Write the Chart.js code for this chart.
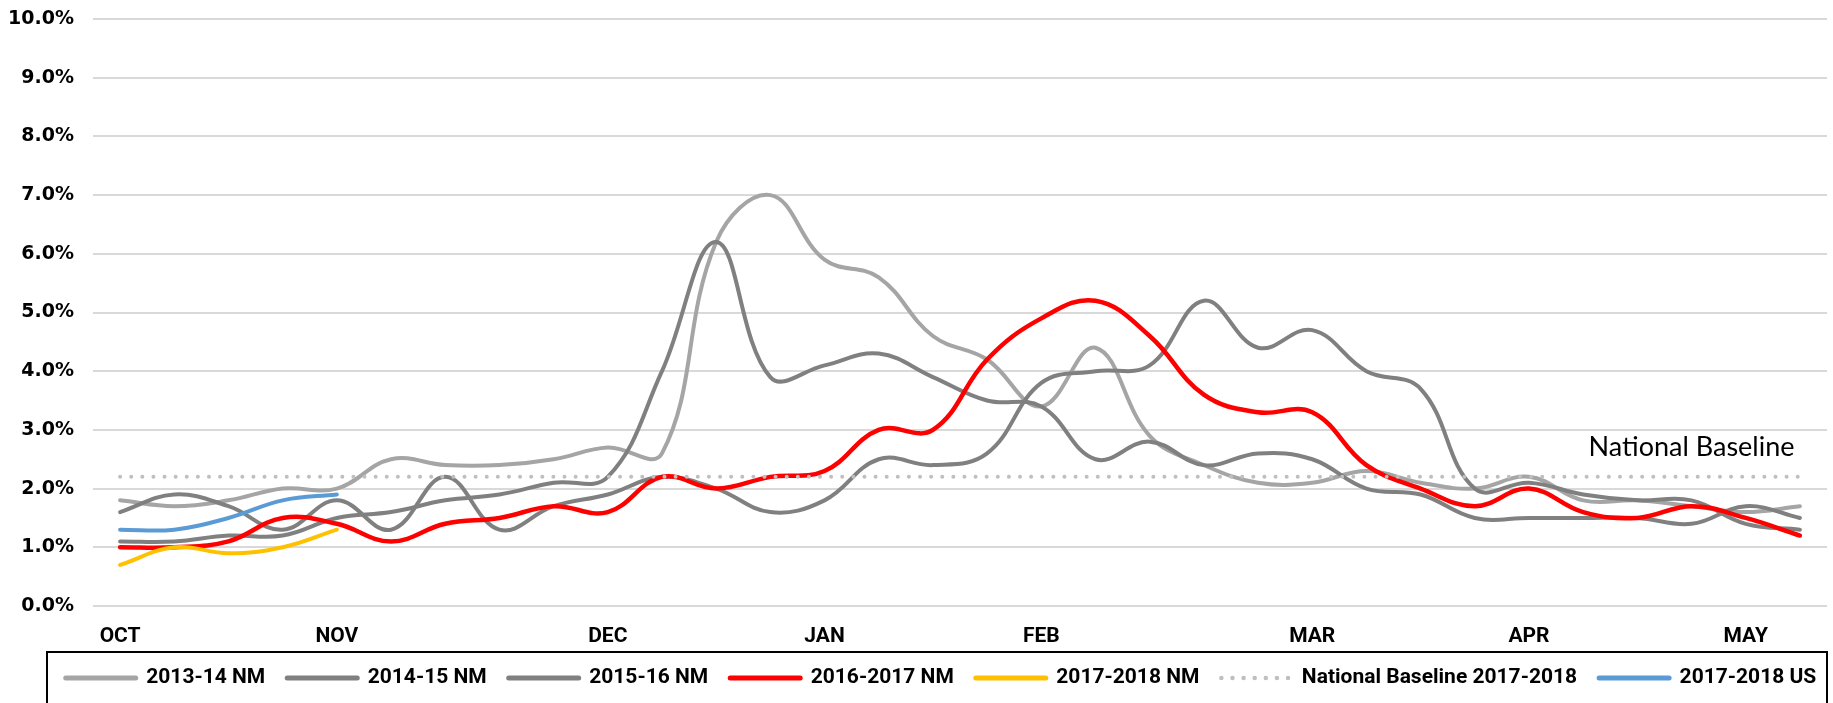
<!DOCTYPE html>
<html>
<head>
<meta charset="utf-8">
<script src="https://cdn.jsdelivr.net/npm/chart.js@4.4.1/dist/chart.umd.min.js"></script>
<style>
  html, body { margin: 0; padding: 0; background: #fff; }
  #wrap { width: 1833px; height: 703px; position: relative; }
</style>
</head>
<body>
<div id="wrap"><canvas id="canvas"></canvas></div>
<script>
// weekly points, Oct -> May
const weeks = ["OCT", "", "", "", "NOV", "", "", "", "", "DEC", "", "", "", "JAN", "", "", "",
  "FEB", "", "", "", "", "MAR", "", "", "", "APR", "", "", "", "MAY", ""];

const nm1314 = [1.8, 1.7, 1.8, 2.0, 2.0, 2.5, 2.4, 2.4, 2.5, 2.7, 2.6, 6.2, 7.0, 5.9, 5.6, 4.6,
  4.2, 3.4, 4.4, 2.9, 2.4, 2.1, 2.1, 2.3, 2.1, 2.0, 2.2, 1.8, 1.8, 1.7, 1.6, 1.7];
const nm1415 = [1.1, 1.1, 1.2, 1.2, 1.5, 1.6, 1.8, 1.9, 2.1, 2.2, 4.0, 6.2, 3.9, 4.1, 4.3, 3.9,
  3.5, 3.4, 2.5, 2.8, 2.4, 2.6, 2.5, 2.0, 1.9, 1.5, 1.5, 1.5, 1.5, 1.4, 1.7, 1.5];
const nm1516 = [1.6, 1.9, 1.7, 1.3, 1.8, 1.3, 2.2, 1.3, 1.7, 1.9, 2.2, 2.0, 1.6, 1.8, 2.5, 2.4,
  2.6, 3.8, 4.0, 4.1, 5.2, 4.4, 4.7, 4.0, 3.7, 2.0, 2.1, 1.9, 1.8, 1.8, 1.4, 1.3];
const nm1617 = [1.0, 1.0, 1.1, 1.5, 1.4, 1.1, 1.4, 1.5, 1.7, 1.6, 2.2, 2.0, 2.2, 2.3, 3.0, 3.0,
  4.2, 4.9, 5.2, 4.6, 3.6, 3.3, 3.3, 2.4, 2.0, 1.7, 2.0, 1.6, 1.5, 1.7, 1.5, 1.2];
const nm1718 = [0.7, 1.0, 0.9, 1.0, 1.3];
const baseline = [2.2, 2.2, 2.2, 2.2, 2.2, 2.2, 2.2, 2.2, 2.2, 2.2, 2.2, 2.2, 2.2, 2.2, 2.2, 2.2,
  2.2, 2.2, 2.2, 2.2, 2.2, 2.2, 2.2, 2.2, 2.2, 2.2, 2.2, 2.2, 2.2, 2.2, 2.2, 2.2];
const us1718 = [1.3, 1.3, 1.5, 1.8, 1.9];

drawChart();

function line(label, data, color, extra) {
  return Object.assign({
    label: label,
    data: data,
    borderColor: color,
    backgroundColor: color,
    borderWidth: 4,
    borderCapStyle: "round",
    borderJoinStyle: "round",
    pointRadius: 0,
    pointHoverRadius: 0,
    tension: 0.4,
    fill: false,
  }, extra || {});
}

function drawChart() {
  // frame around the legend + move the legend row where the original has it
  const legendFrame = {
    id: "legendFrame",
    afterLayout(chart) {
      const lg = chart.legend;
      const h = lg.height;
      lg.left = 941 - 915;
      lg.right = 941 + 915;
      lg.width = 1830;
      lg.top = 645.5;
      lg.bottom = lg.top + h;
    },
    afterDraw(chart) {
      const ctx = chart.ctx;
      ctx.save();
      ctx.strokeStyle = "#000";
      ctx.lineWidth = 2;
      ctx.strokeRect(47, 652, 1780, 80);
      ctx.restore();
    },
  };

  const baselineLabel = {
    id: "baselineLabel",
    afterDatasetsDraw(chart) {
      const { ctx, scales } = chart;
      ctx.save();
      ctx.font = "27px Lato";
      ctx.fillStyle = "#000";
      ctx.textAlign = "center";
      ctx.textBaseline = "middle";
      ctx.fillText("National Baseline", scales.x.getPixelForValue(29),
        scales.y.getPixelForValue(baseline[29]) - 30);
      ctx.restore();
    },
  };

  const ctx = document.getElementById("canvas").getContext("2d");
  new Chart(ctx, {
    type: "line",
    data: {
      labels: weeks,
      datasets: [
        line("2013-14 NM", nm1314, "#A5A5A5", { order: 7 }),
        line("2014-15 NM", nm1415, "#808080", { order: 6 }),
        line("2015-16 NM", nm1516, "#808080", { order: 5 }),
        line("2016-2017 NM", nm1617, "#FF0000", { order: 4, borderWidth: 4.5 }),
        line("2017-2018 NM", nm1718, "#FFC000", { order: 3 }),
        line("National Baseline 2017-2018", baseline, "#BFBFBF",
          { order: 2, borderDash: [0.01, 11.1], tension: 0 }),
        line("2017-2018 US", us1718, "#5B9BD5", { order: 1 }),
      ],
    },
    options: {
      responsive: true,
      maintainAspectRatio: false,
      animation: false,
      devicePixelRatio: 1,
      layout: { padding: { top: 19, right: 6, left: 0, bottom: 0 } },
      plugins: {
        tooltip: { enabled: false },
        legend: {
          position: "bottom",
          labels: {
            usePointStyle: true,
            pointStyle: "line",
            pointStyleWidth: 70,
            padding: 22,
            color: "#000",
            font: { family: "Roboto", size: 21, weight: "bold" },
            sort: (a, b) => a.datasetIndex - b.datasetIndex,
            // point style legend loses the dash, so put it back from the dataset
            generateLabels(chart) {
              const items = Chart.defaults.plugins.legend.labels.generateLabels(chart);
              items.forEach((item) => {
                const ds = chart.data.datasets[item.datasetIndex];
                item.lineDash = ds.borderDash || [];
                item.lineCap = "round";
                item.lineWidth = ds.borderDash ? 4.5 : 5;
                item.strokeStyle = ds.borderColor;
              });
              return items;
            },
          },
        },
      },
      scales: {
        x: {
          offset: true,
          grid: { display: false, drawTicks: false },
          border: { display: false },
          ticks: {
            autoSkip: false,
            maxRotation: 0,
            padding: 18,
            color: "#000",
            font: { family: "Roboto", size: 21, weight: "bold" },
          },
          afterFit(scale) { scale.height = 44; },
        },
        y: {
          min: 0,
          max: 10,
          grid: { color: "#D9D9D9", lineWidth: 2, drawTicks: false },
          border: { display: false },
          ticks: {
            stepSize: 1,
            padding: 19,
            color: "#000",
            font: { family: "DejaVu Sans", size: 19, weight: "bold" },
            callback: (value) => value.toFixed(1) + "%",
          },
          afterFit(scale) {
            scale.width = 93;
            scale.paddingTop = 0;
            scale.paddingBottom = 0;
          },
        },
      },
    },
    plugins: [legendFrame, baselineLabel],
  });
}
</script>
</body>
</html>
